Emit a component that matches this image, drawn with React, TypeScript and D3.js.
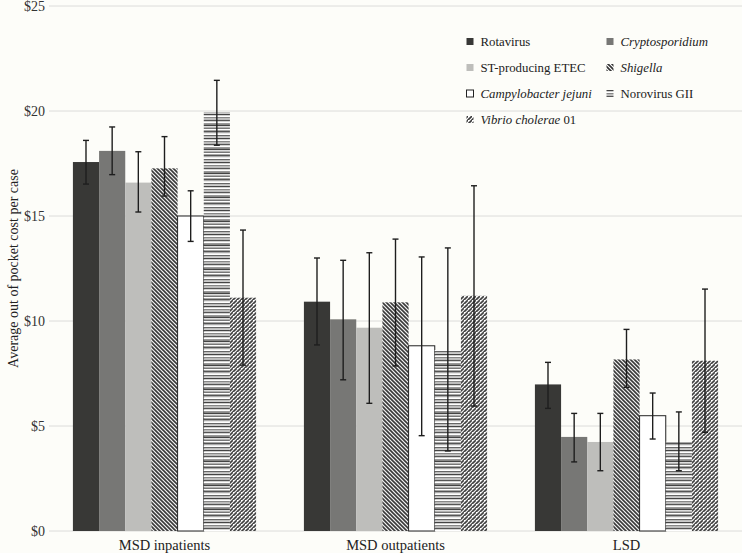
import React from "react";
import * as d3 from "d3";

const categories = ["MSD inpatients", "MSD outpatients", "LSD"];
const pathogens = [
  "Rotavirus",
  "Cryptosporidium",
  "ST-producing ETEC",
  "Shigella",
  "Campylobacter jejuni",
  "Norovirus GII",
  "Vibrio cholerae 01",
];
// values per pathogen, per category
const meanValues = [
  [17.57, 10.92, 6.98],
  [18.1, 10.08, 4.48],
  [16.59, 9.68, 4.24],
  [17.27, 10.89, 8.17],
  [15.0, 8.82, 5.49],
  [19.95, 8.62, 4.25],
  [11.11, 11.2, 8.11],
];
const upperValues = [
  [18.6, 13.0, 8.03],
  [19.24, 12.89, 5.6],
  [18.06, 13.25, 5.6],
  [18.78, 13.9, 9.6],
  [16.2, 13.05, 6.57],
  [21.46, 13.48, 5.67],
  [14.33, 16.44, 11.52],
];
const lowerValues = [
  [16.52, 8.86, 5.84],
  [16.97, 7.2, 3.29],
  [15.19, 6.08, 2.87],
  [15.95, 7.86, 6.84],
  [13.79, 4.54, 4.38],
  [18.37, 3.81, 2.87],
  [7.9, 5.95, 4.7],
];
const yTicks = [0, 5, 10, 15, 20, 25];

const W = 742;
const H = 553;
const FONT = "Liberation Serif, Times New Roman, Times, serif";
const fills = [
  "#383836",
  "#777775",
  "#bebebb",
  "url(#pShig)",
  "#ffffff",
  "url(#pNoro)",
  "url(#pVib)",
];
const noroRows = ["#555", "#fff", "#999", "#444", "#ddd", "#777", "#fff", "#555", "#aaa", "#fff", "#666", "#ccc", "#444", "#fff", "#888", "#bbb"];

export default function App() {
  const x0 = d3.scaleBand<string>().domain(categories).range([49, 742]).paddingInner(0.207).paddingOuter(0.1035);
  const x1 = d3.scaleBand<string>().domain(pathogens).range([0, x0.bandwidth()]);
  const y = d3.scaleLinear().domain([0, 25]).range([531, 6]);
  const fmt = (v: number) => `$${v}`;

  const legendPos = [
    [467, 42], [607, 42],
    [467, 68], [607, 68],
    [467, 94], [607, 94],
    [467, 120],
  ];
  const legendText = (i: number) => {
    switch (i) {
      case 1: return <tspan fontStyle="italic">Cryptosporidium</tspan>;
      case 3: return <tspan fontStyle="italic">Shigella</tspan>;
      case 4: return <tspan fontStyle="italic">Campylobacter jejuni</tspan>;
      case 6: return (<><tspan fontStyle="italic">Vibrio cholerae</tspan><tspan> 01</tspan></>);
      default: return pathogens[i];
    }
  };

  return (
    <svg width={W} height={H} style={{ position: "absolute", left: 0, top: 0, background: "#fdfdf9", fontFamily: FONT }}>
      <defs>
        <pattern id="pShig" patternUnits="userSpaceOnUse" width={4} height={4}>
          <rect width={4} height={4} fill="#fff" />
          <path d="M-1,-1 L5,5 M3,-1 L5,1 M-1,3 L1,5" stroke="#333" strokeWidth={1.6} />
        </pattern>
        <pattern id="pVib" patternUnits="userSpaceOnUse" width={4} height={4}>
          <rect width={4} height={4} fill="#fff" />
          <path d="M-1,5 L5,-1 M-1,1 L1,-1 M3,5 L5,3" stroke="#3a3a3a" strokeWidth={1.6} />
          <rect x={0} y={0} width={1} height={1} fill="#fff" />
        </pattern>
        <pattern id="pNoro" patternUnits="userSpaceOnUse" width={4} height={noroRows.length * 1.5}>
          {noroRows.map((c, i) => (
            <rect key={i} x={0} y={i * 1.5} width={4} height={1.5} fill={c} />
          ))}
        </pattern>
      </defs>
      <rect width={W} height={H} fill="#fdfdf9" />
      {yTicks.map((t) => (
        <g key={t}>
          <line x1={49} x2={742} y1={y(t)} y2={y(t)} stroke="#dcdcda" strokeWidth={1} />
          <text x={45} y={y(t)} dy="0.35em" textAnchor="end" fontSize={14} fill="#333">{fmt(t)}</text>
        </g>
      ))}
      <text transform={`translate(13,${(y(0) + y(25)) / 2}) rotate(-90)`} textAnchor="middle" dy="0.35em" fontSize={14} fill="#222">
        Average out of pocket cost per case
      </text>
      {categories.map((c, ci) => (
        <g key={c} transform={`translate(${x0(c)},0)`}>
          {pathogens.map((p, pi) => {
            const v = meanValues[pi][ci];
            const bx = x1(p)!;
            return (
              <rect key={p} x={bx} y={y(v)} width={x1.bandwidth()} height={y(0) - y(v)}
                fill={fills[pi]} stroke={pi === 4 ? "#222" : "none"} strokeWidth={pi === 4 ? 1 : 0} />
            );
          })}
          {pathogens.map((p, pi) => {
            const cx = x1(p)! + x1.bandwidth() / 2;
            const hi = y(upperValues[pi][ci]);
            const lo = y(lowerValues[pi][ci]);
            return (
              <g key={p} stroke="#1e1e1e" strokeWidth={1.4}>
                <line x1={cx} x2={cx} y1={hi} y2={lo} />
                <line x1={cx - 3} x2={cx + 3} y1={hi} y2={hi} />
                <line x1={cx - 3} x2={cx + 3} y1={lo} y2={lo} />
              </g>
            );
          })}
          <text x={x0.bandwidth() / 2} y={545} dy="0.35em" textAnchor="middle" fontSize={14.5} fill="#222">{c}</text>
        </g>
      ))}
      {pathogens.map((p, i) => {
        const [lx, ly] = legendPos[i];
        return (
          <g key={p}>
            <rect x={lx - 0.5} y={ly - 4} width={7} height={7} fill={fills[i]} stroke={i === 4 ? "#222" : "none"} strokeWidth={1} />
            <text x={lx + 13.5} y={ly} dy="0.33em" fontSize={12.8} fill="#222">{legendText(i)}</text>
          </g>
        );
      })}
    </svg>
  );
}
